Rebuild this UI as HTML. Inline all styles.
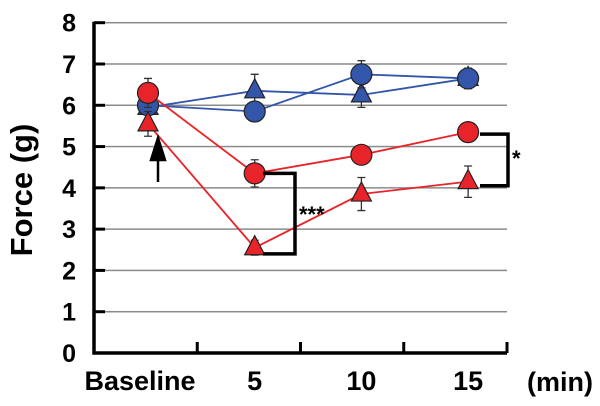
<!DOCTYPE html>
<html><head><meta charset="utf-8"><style>body{margin:0;background:#fff}svg{display:block;font-family:"Liberation Sans",Arial,sans-serif;font-weight:bold}</style></head>
<body>
<svg id="c" width="600" height="406"></svg>
<script>
const categories=["Baseline","5","10","15"];
const yTicks=[0,1,2,3,4,5,6,7,8];
const redCircle=[6.3,4.35,4.8,5.35];
const redCircleErr=[0.35,0.33,0.15,0.22];
const redTri=[5.55,2.55,3.85,4.15];
const redTriErr=[0.3,0.18,0.4,0.38];
const blueCircle=[6.0,5.85,6.75,6.65];
const blueCircleErr=[0.15,0.2,0.33,0.25];
const blueTri=[5.95,6.35,6.25,6.65];
const blueTriErr=[0.15,0.4,0.3,0.2];
const NS="http://www.w3.org/2000/svg",svg=document.getElementById('c');
function el(t,a,p){const e=document.createElementNS(NS,t);for(const k in a)e.setAttribute(k,a[k]);(p||svg).appendChild(e);return e;}
const X0=94,X1=507,Y0=353,Y8=22.7;
const y=v=>Y0-(Y0-Y8)*v/8;
const x=i=>148+i*106.7;
yTicks.forEach(t=>{
 if(t>0){const gl=el('rect',{x:X0,y:y(t)-0.75,width:X1-X0,height:1.5,fill:'#8a8a8a'});
 
 }
 const tk=el('line',{x1:X0,x2:X0+11,y1:y(t),y2:y(t),stroke:'#000','stroke-width':3});
 
 const tx=el('text',{x:76,y:y(t)+9,'font-size':25,'text-anchor':'end'});tx.textContent=t;
 
});
const ax=el('path',{d:`M${X0} ${Y8-1}V${Y0}H${X1}`,fill:'none',stroke:'#000','stroke-width':3.5});

[1,2,3,4].forEach(i=>{const xx=X0+i*(X1-X0)/4;const t=el('line',{x1:xx,x2:xx,y1:Y0,y2:Y0-11,stroke:'#000','stroke-width':3});
 });
categories.forEach((c,i)=>{const t=el('text',{x:i==0?140:x(i),y:390,'font-size':27,'text-anchor':'middle'});t.textContent=c;
 });
const mn=el('text',{x:560,y:391,'font-size':27,'text-anchor':'middle'});mn.textContent='(min)';

const yt=el('text',{transform:'translate(32,190) rotate(-90)','font-size':31,'text-anchor':'middle'});yt.textContent='Force (g)';

function series(vals,errs,color,shape,name){
 const g=el('g',{});
 vals.forEach((v,i)=>{el('path',{d:`M${x(i)} ${y(v+errs[i])}V${y(v-errs[i])}M${x(i)-4} ${y(v+errs[i])}h8M${x(i)-4} ${y(v-errs[i])}h8`,stroke:'#333','stroke-width':1.3},g);});
 el('polyline',{points:vals.map((v,i)=>x(i)+','+y(v)).join(' '),fill:'none',stroke:color,'stroke-width':1.8},g);
 vals.forEach((v,i)=>{let m;
  if(shape=='c')m=el('circle',{cx:x(i),cy:y(v),r:10.5,fill:color,stroke:'#222','stroke-width':1.2},g);
  else m=el('path',{d:`M${x(i)} ${y(v)-12}L${x(i)+10} ${y(v)+7}H${x(i)-10}Z`,fill:color,stroke:'#222','stroke-width':1.2},g);
  });
}
series(blueTri,blueTriErr,'#3355aa','t','blue-triangle-series');
series(blueCircle,blueCircleErr,'#3355aa','c','blue-circle-series');
series(redTri,redTriErr,'#e8242a','t','red-triangle-series');
series(redCircle,redCircleErr,'#e8242a','c','red-circle-series');
const b1=el('path',{d:`M263 ${y(4.35)}H295V${y(2.4)}H263`,fill:'none',stroke:'#000','stroke-width':3.5});

const s1=el('text',{x:299,y:222,'font-size':22});s1.textContent='***';

const b2=el('path',{d:`M480 ${y(5.3)}H508V${y(4.05)}H480`,fill:'none',stroke:'#000','stroke-width':3.5});

const s2=el('text',{x:512,y:166,'font-size':22});s2.textContent='*';

const ar=el('path',{d:'M158 182V156M151 160L158 138L165 160Z',stroke:'#000','stroke-width':2.5,fill:'#000'});

</script>
</body></html>
